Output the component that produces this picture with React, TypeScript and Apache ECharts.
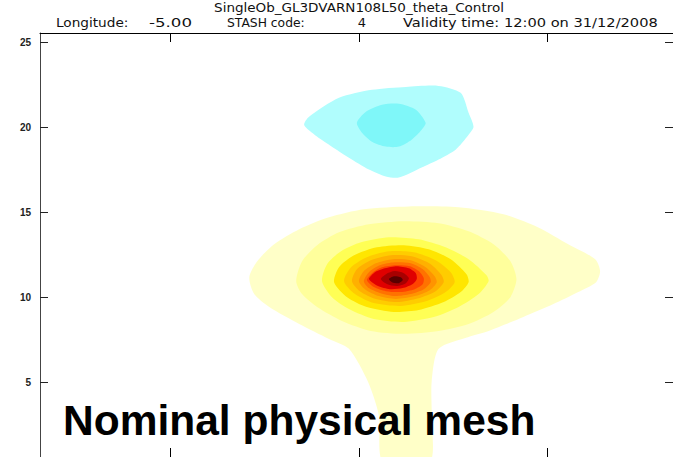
import React, { useEffect, useRef } from "react";
import * as echarts from "echarts";

// Axis ticks (x: latitude offset from observation column, y: model level)
const X_TICKS = [-1, 0, 1];
const Y_TICKS = [5, 10, 15, 20, 25];
const X_MIN = -1.693;
const X_MAX = 1.667;
const Y_MIN = 0.6;
const Y_MAX = 25.53;

const TITLE = "SingleOb_GL3DVARN108L50_theta_Control";
const INFO_LABELS = ["Longitude:", "-5.00", "STASH code:", "4", "Validity time: 12:00 on 31/12/2008"];
const OVERLAY = "Nominal physical mesh";

// Filled contour polygons (x, level), positive increments from outermost to innermost
const POS_1: number[][] = [[-0.582,11.17],[-0.540,12.11],[-0.450,13.11],[-0.317,13.99],[-0.159,14.69],[0.026,15.16],[0.265,15.33],[0.529,15.28],[0.767,14.87],[0.952,14.10],[1.111,13.11],[1.254,12.23],[1.280,11.53],[1.259,10.88],[1.164,10.30],[1.032,9.59],[0.873,8.83],[0.688,8.01],[0.582,7.66],[0.423,6.96],[0.386,5.02],[0.386,3.03],[0.376,0.3],[0.127,0.3],[0.106,3.03],[0.048,5.02],[-0.053,6.96],[-0.159,7.54],[-0.317,8.42],[-0.476,9.42],[-0.556,10.18]];
const POS_2: number[][] = [[-0.333,10.94],[-0.302,12.11],[-0.222,13.05],[-0.106,13.81],[0.053,14.28],[0.238,14.46],[0.423,14.34],[0.582,13.87],[0.714,13.11],[0.804,12.11],[0.836,11.06],[0.804,10.00],[0.714,9.13],[0.582,8.42],[0.423,8.01],[0.238,7.84],[0.063,8.01],[-0.090,8.60],[-0.222,9.42],[-0.302,10.18]];
const POS_3: number[][] = [[-0.196,10.94],[-0.169,11.94],[-0.095,12.70],[0.011,13.22],[0.159,13.52],[0.317,13.40],[0.460,12.93],[0.582,12.23],[0.677,11.29],[0.688,10.94],[0.635,10.18],[0.529,9.42],[0.397,8.83],[0.238,8.54],[0.079,8.71],[-0.053,9.30],[-0.143,10.00]];
const POS_4: number[][] = [[-0.132,10.88],[-0.106,11.76],[-0.026,12.46],[0.095,12.93],[0.238,13.05],[0.370,12.81],[0.487,12.23],[0.571,11.35],[0.582,10.88],[0.540,10.30],[0.450,9.71],[0.317,9.24],[0.185,9.13],[0.042,9.42],[-0.063,10.00]];
const POS_5: number[][] = [[-0.079,10.94],[-0.042,11.76],[0.042,12.35],[0.159,12.70],[0.291,12.64],[0.407,12.17],[0.487,11.47],[0.508,10.88],[0.460,10.30],[0.360,9.77],[0.222,9.48],[0.079,9.65],[-0.021,10.18]];
const POS_6: number[][] = [[-0.037,10.94],[-0.011,11.64],[0.063,12.17],[0.169,12.46],[0.280,12.40],[0.381,11.94],[0.439,11.29],[0.450,10.88],[0.407,10.35],[0.317,9.94],[0.201,9.71],[0.090,9.89],[0.005,10.35]];
const POS_7: number[][] = [[0.000,10.94],[0.026,11.53],[0.090,11.99],[0.180,12.23],[0.275,12.17],[0.354,11.76],[0.402,11.23],[0.413,10.88],[0.376,10.41],[0.296,10.06],[0.196,9.89],[0.106,10.06],[0.032,10.47]];
const POS_8: number[][] = [[0.026,10.94],[0.053,11.47],[0.111,11.88],[0.190,12.05],[0.275,11.99],[0.339,11.64],[0.376,11.17],[0.381,10.88],[0.344,10.47],[0.275,10.18],[0.190,10.06],[0.111,10.24],[0.053,10.53]];
const POS_9: number[][] = [[0.042,11.00],[0.069,11.41],[0.122,11.76],[0.196,11.88],[0.270,11.82],[0.317,11.53],[0.344,11.12],[0.339,10.77],[0.296,10.47],[0.222,10.30],[0.143,10.35],[0.079,10.59]];
const POS_10: number[][] = [[0.053,11.06],[0.085,11.47],[0.138,11.70],[0.201,11.82],[0.265,11.70],[0.302,11.41],[0.307,11.06],[0.286,10.77],[0.233,10.53],[0.164,10.47],[0.101,10.65]];
const POS_11: number[][] = [[0.116,11.06],[0.143,11.35],[0.190,11.53],[0.238,11.41],[0.265,11.12],[0.249,10.82],[0.201,10.65],[0.148,10.77]];
const POS_12: number[][] = [[0.159,11.06],[0.185,11.23],[0.222,11.17],[0.233,11.00],[0.212,10.82],[0.175,10.88]];
// Negative increments
const NEG_1: number[][] = [[-0.291,20.14],[-0.265,20.61],[-0.106,21.72],[0.069,22.19],[0.249,22.36],[0.423,22.42],[0.540,22.01],[0.582,20.84],[0.608,20.02],[0.582,19.55],[0.513,18.67],[0.423,18.09],[0.333,17.62],[0.212,17.03],[0.143,17.09],[0.053,17.50],[-0.053,18.20],[-0.175,19.08],[-0.249,19.67]];
const NEG_2: number[][] = [[-0.011,20.25],[0.037,20.90],[0.122,21.31],[0.212,21.37],[0.302,21.02],[0.354,20.25],[0.333,19.84],[0.280,19.26],[0.212,18.85],[0.143,18.85],[0.069,19.14],[0.016,19.67]];

const LEVELS = [NEG_1, NEG_2, POS_1, POS_2, POS_3, POS_4, POS_5, POS_6, POS_7, POS_8, POS_9, POS_10, POS_11, POS_12];
const LEVEL_COLORS = ["#b0fdfd", "#7ff7f9", "#ffffc8", "#ffff9c", "#ffff55", "#ffe600", "#ffcc00", "#ffb000", "#ff9400", "#ff7200", "#ff4400", "#e00000", "#a80000", "#580000"];

export default function App() {
  const ref = useRef<HTMLDivElement>(null);
  useEffect(() => {
    if (!ref.current) return;
    const chart = echarts.init(ref.current, null, { renderer: "svg" });
    const xAxisBase = (position: string) => ({
      type: "value",
      position,
      min: X_MIN,
      max: X_MAX,
      axisLine: { show: true, onZero: false, lineStyle: { color: "#000", width: 1 } },
      axisTick: { show: true, inside: true, length: 9, customValues: X_TICKS, lineStyle: { color: "#000" } },
      axisLabel: { show: false },
      splitLine: { show: false },
    });
    const series = LEVELS.map((pts, i) => ({
      type: "custom",
      xAxisIndex: 0,
      yAxisIndex: 0,
      clip: true,
      silent: true,
      data: pts,
      encode: { x: 0, y: 1 },
      renderItem: (params: any, api: any) => {
        if (params.dataIndex !== 0) return null;
        const points = pts.map((p) => api.coord(p));
        return {
          type: "polygon",
          shape: { points, smooth: 0.25 },
          style: { fill: LEVEL_COLORS[i], stroke: null },
        };
      },
    }));
    const textStyle = { fontFamily: "DejaVu Sans", fontSize: 13, fill: "#111" };
    const infoX = [56, 149, 227, 362, 403];
    const infoScale = [1.05, 1.28, 0.95, 1, 1.125];
    chart.setOption({
      animation: false,
      backgroundColor: "#ffffff",
      grid: { left: 40, top: 33, width: 635, height: 425 },
      xAxis: [xAxisBase("bottom"), xAxisBase("top")],
      yAxis: [
        {
          type: "value",
          position: "left",
          min: Y_MIN,
          max: Y_MAX,
          axisLine: { show: true, onZero: false, lineStyle: { color: "#444", width: 1 } },
          axisTick: { show: true, inside: true, length: 8, customValues: Y_TICKS, lineStyle: { color: "#222" } },
          axisLabel: { show: true, customValues: Y_TICKS, fontSize: 10, fontFamily: "Liberation Sans", fontWeight: "bold", color: "#222", margin: 9 },
          splitLine: { show: false },
        },
        {
          type: "value",
          position: "right",
          min: Y_MIN,
          max: Y_MAX,
          axisLine: { show: true, onZero: false, lineStyle: { color: "#444" } },
          axisTick: { show: true, inside: true, length: 8, customValues: Y_TICKS, lineStyle: { color: "#222" } },
          axisLabel: { show: false },
          splitLine: { show: false },
        },
      ],
      series,
      graphic: [
        { type: "text", x: 359, y: 8, scaleX: 1.04, style: { ...textStyle, text: TITLE, align: "center", verticalAlign: "middle" } },
        ...INFO_LABELS.map((t, i) => ({
          type: "text",
          x: infoX[i],
          y: 22.5,
          scaleX: infoScale[i],
          style: { ...textStyle, text: t, align: i === 3 ? "center" : "left", verticalAlign: "middle" },
        })),
        {
          type: "text",
          x: 63,
          y: 420,
          z: 100,
          style: { text: OVERLAY, fontFamily: "Liberation Sans", fontWeight: "bold", fontSize: 42.5, fill: "#000", align: "left", verticalAlign: "middle" },
        },
      ],
    });
    return () => chart.dispose();
  }, []);
  return <div ref={ref} style={{ position: "fixed", left: 0, top: 0, width: 673, height: 457 }} />;
}
